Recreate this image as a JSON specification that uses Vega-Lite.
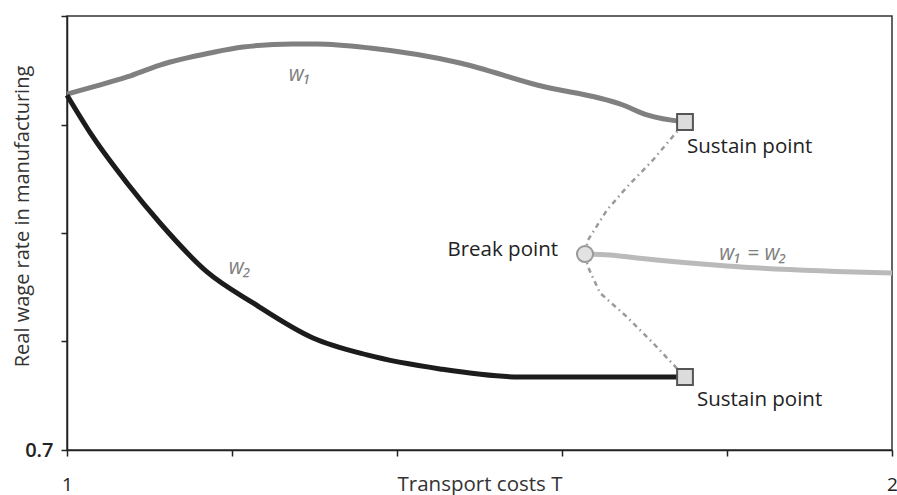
{
  "$schema": "https://vega.github.io/schema/vega-lite/v6.json",
  "width": 825,
  "height": 434,
  "autosize": "none",
  "padding": {"left": 67, "top": 16, "right": 5, "bottom": 45},
  "background": "white",
  "config": {
    "view": {"stroke": "#333333", "strokeWidth": 1.5},
    "axis": {
      "grid": false,
      "domainColor": "#222222",
      "domainWidth": 1.5,
      "tickColor": "#222222",
      "tickWidth": 1.5,
      "tickSize": 6,
      "labelFont": "Open Sans",
      "labelColor": "#222222",
      "titleFont": "Open Sans",
      "titleColor": "#333333",
      "titleFontWeight": "normal"
    },
    "text": {"font": "Open Sans"}
  },
  "datasets": {
    "curves": [
      {"series": "w1", "i": 1, "T": 1.0, "w": 1.028},
      {"series": "w1", "i": 2, "T": 1.0315, "w": 1.0346},
      {"series": "w1", "i": 3, "T": 1.0727, "w": 1.0438},
      {"series": "w1", "i": 4, "T": 1.1127, "w": 1.0548},
      {"series": "w1", "i": 5, "T": 1.1733, "w": 1.0659},
      {"series": "w1", "i": 6, "T": 1.2133, "w": 1.0714},
      {"series": "w1", "i": 7, "T": 1.2739, "w": 1.0742},
      {"series": "w1", "i": 8, "T": 1.303, "w": 1.0742},
      {"series": "w1", "i": 9, "T": 1.3673, "w": 1.0705},
      {"series": "w1", "i": 10, "T": 1.4764, "w": 1.0567},
      {"series": "w1", "i": 11, "T": 1.5697, "w": 1.0364},
      {"series": "w1", "i": 12, "T": 1.6739, "w": 1.018},
      {"series": "w1", "i": 13, "T": 1.703, "w": 1.0088},
      {"series": "w1", "i": 14, "T": 1.7491, "w": 1.0023},
      {"series": "w2", "i": 1, "T": 1.0, "w": 1.027},
      {"series": "w2", "i": 2, "T": 1.0315, "w": 0.9885},
      {"series": "w2", "i": 3, "T": 1.0727, "w": 0.9461},
      {"series": "w2", "i": 4, "T": 1.1127, "w": 0.9092},
      {"series": "w2", "i": 5, "T": 1.1697, "w": 0.8641},
      {"series": "w2", "i": 6, "T": 1.2255, "w": 0.8355},
      {"series": "w2", "i": 7, "T": 1.2982, "w": 0.8032},
      {"series": "w2", "i": 8, "T": 1.3636, "w": 0.7876},
      {"series": "w2", "i": 9, "T": 1.4521, "w": 0.7747},
      {"series": "w2", "i": 10, "T": 1.5491, "w": 0.7673},
      {"series": "w2", "i": 11, "T": 1.7491, "w": 0.7673},
      {"series": "eq", "i": 1, "T": 1.6279, "w": 0.8806},
      {"series": "eq", "i": 2, "T": 1.6582, "w": 0.8797},
      {"series": "eq", "i": 3, "T": 1.6909, "w": 0.877},
      {"series": "eq", "i": 4, "T": 1.8, "w": 0.8696},
      {"series": "eq", "i": 5, "T": 2.0, "w": 0.8631},
      {"series": "up", "i": 1, "T": 1.6279, "w": 0.8806},
      {"series": "up", "i": 2, "T": 1.6315, "w": 0.8935},
      {"series": "up", "i": 3, "T": 1.6545, "w": 0.9212},
      {"series": "up", "i": 4, "T": 1.6788, "w": 0.9424},
      {"series": "up", "i": 5, "T": 1.7103, "w": 0.9673},
      {"series": "up", "i": 6, "T": 1.7491, "w": 1.0023},
      {"series": "down", "i": 1, "T": 1.6279, "w": 0.8806},
      {"series": "down", "i": 2, "T": 1.6315, "w": 0.8687},
      {"series": "down", "i": 3, "T": 1.6461, "w": 0.8447},
      {"series": "down", "i": 4, "T": 1.6788, "w": 0.8226},
      {"series": "down", "i": 5, "T": 1.7103, "w": 0.7986},
      {"series": "down", "i": 6, "T": 1.7491, "w": 0.7673}
    ],
    "points": [
      {"kind": "sustain", "T": 1.7491, "w": 1.0023},
      {"kind": "sustain", "T": 1.7491, "w": 0.7673},
      {"kind": "break", "T": 1.6279, "w": 0.8806}
    ],
    "labels": [
      {"style": "series", "text": "w₁", "T": 1.2824, "w": 1.0456},
      {"style": "series", "text": "w₂", "T": 1.2097, "w": 0.8677},
      {"style": "series", "text": "w₁ = w₂", "T": 1.8315, "w": 0.8806},
      {"style": "right", "text": "Break point", "T": 1.5952, "w": 0.8843},
      {"style": "left", "text": "Sustain point", "T": 1.7515, "w": 0.9793},
      {"style": "left", "text": "Sustain point", "T": 1.7636, "w": 0.7461}
    ]
  },
  "encoding": {
    "x": {
      "field": "T", "type": "quantitative",
      "scale": {"domain": [1, 2], "nice": false, "zero": false},
      "axis": {
        "values": [1, 1.2, 1.4, 1.6, 1.8, 2],
        "labelExpr": "datum.value == 1 ? '1' : (datum.value == 2 ? '2' : '')",
        "labelFontSize": 19,
        "labelPadding": 19,
        "labelFlush": false,
        "labelOverlap": false,
        "title": "Transport costs T",
        "titleFontSize": 20.5,
        "titleY": 34,
        "titleBaseline": "middle"
      }
    },
    "y": {
      "field": "w", "type": "quantitative",
      "scale": {"domain": [0.7, 1.1], "nice": false, "zero": false},
      "axis": {
        "values": [0.7, 0.8, 0.9, 1.0, 1.1],
        "labelExpr": "datum.value == 0.7 ? '0.7' : ''",
        "labelFontSize": 20,
        "labelFontWeight": 600,
        "labelPadding": 8,
        "labelFlush": false,
        "labelOverlap": false,
        "title": "Real wage rate in manufacturing",
        "titleFontSize": 20,
        "titleX": -45,
        "titleY": 200,
        "titleAlign": "center",
        "titleBaseline": "middle"
      }
    }
  },
  "layer": [
    {
      "data": {"name": "curves"},
      "transform": [{"filter": "datum.series == 'up' || datum.series == 'down'"}],
      "mark": {"type": "line", "color": "#9a9a9a", "strokeWidth": 2.5, "strokeDash": [5, 4, 1.5, 4]},
      "encoding": {"detail": {"field": "series"}, "order": {"field": "i"}}
    },
    {
      "data": {"name": "curves"},
      "transform": [{"filter": "datum.series == 'w1'"}],
      "mark": {"type": "line", "color": "#808080", "strokeWidth": 5, "interpolate": "monotone"},
      "encoding": {"order": {"field": "i"}}
    },
    {
      "data": {"name": "curves"},
      "transform": [{"filter": "datum.series == 'w2'"}],
      "mark": {"type": "line", "color": "#1c1c1c", "strokeWidth": 5, "interpolate": "monotone"},
      "encoding": {"order": {"field": "i"}}
    },
    {
      "data": {"name": "curves"},
      "transform": [{"filter": "datum.series == 'eq'"}],
      "mark": {"type": "line", "color": "#bababa", "strokeWidth": 5, "interpolate": "monotone"},
      "encoding": {"order": {"field": "i"}}
    },
    {
      "data": {"name": "points"},
      "transform": [{"filter": "datum.kind == 'sustain'"}],
      "mark": {"type": "point", "shape": "square", "size": 250, "filled": true, "fill": "#dcdcdc", "stroke": "#555555", "strokeWidth": 2, "opacity": 1}
    },
    {
      "data": {"name": "points"},
      "transform": [{"filter": "datum.kind == 'break'"}],
      "mark": {"type": "point", "shape": "circle", "size": 260, "filled": true, "fill": "#e2e2e2", "stroke": "#9a9a9a", "strokeWidth": 2, "opacity": 1}
    },
    {
      "data": {"name": "labels"},
      "transform": [{"filter": "datum.style == 'series'"}],
      "mark": {"type": "text", "align": "center", "baseline": "middle", "fontSize": 21, "fontStyle": "italic", "color": "#808080"},
      "encoding": {"text": {"field": "text"}}
    },
    {
      "data": {"name": "labels"},
      "transform": [{"filter": "datum.style == 'right'"}],
      "mark": {"type": "text", "align": "right", "baseline": "middle", "fontSize": 20.5, "color": "#222222"},
      "encoding": {"text": {"field": "text"}}
    },
    {
      "data": {"name": "labels"},
      "transform": [{"filter": "datum.style == 'left'"}],
      "mark": {"type": "text", "align": "left", "baseline": "middle", "fontSize": 20.5, "color": "#222222"},
      "encoding": {"text": {"field": "text"}}
    }
  ]
}
